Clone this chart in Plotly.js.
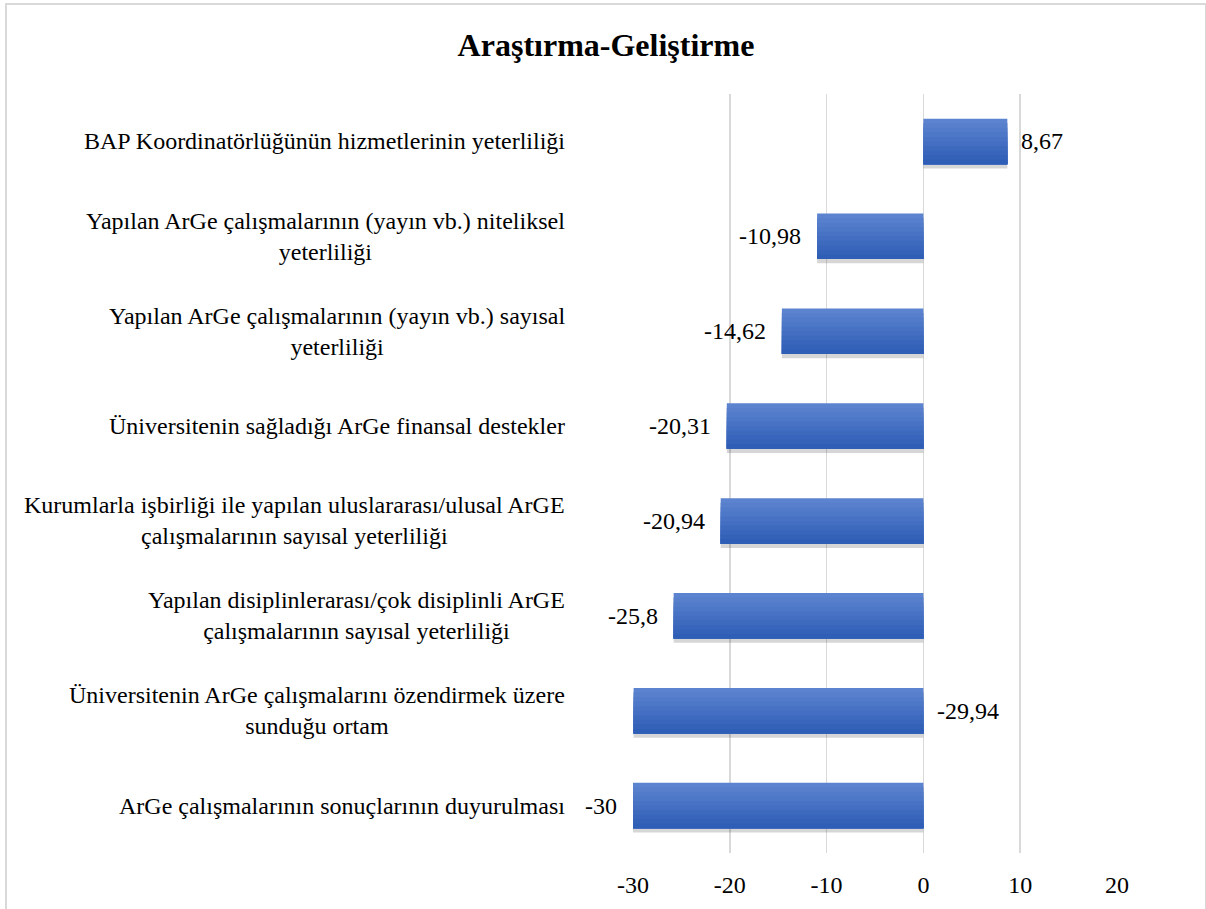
<!DOCTYPE html>
<html>
<head>
<meta charset="utf-8">
<script src="https://cdn.plot.ly/plotly-3.0.1.min.js"></script>
<style>
html,body{margin:0;padding:0;background:#fff;overflow:hidden;}
#chart{position:absolute;left:5px;top:3px;width:1198px;height:920px;border:2px solid #d9d9d9;}
</style>
</head>
<body>
<div id="chart"></div>
<script>
const chartTitle = "Araştırma-Geliştirme";
const categories = [
  "BAP Koordinatörlüğünün hizmetlerinin yeterliliği",
  "Yapılan ArGe çalışmalarının (yayın vb.) niteliksel<br>yeterliliği",
  "Yapılan ArGe çalışmalarının (yayın vb.) sayısal<br>yeterliliği",
  "Üniversitenin sağladığı ArGe finansal destekler",
  "Kurumlarla işbirliği ile yapılan uluslararası/ulusal ArGE<br>çalışmalarının sayısal yeterliliği",
  "Yapılan disiplinlerarası/çok disiplinli ArGE<br>çalışmalarının sayısal yeterliliği",
  "Üniversitenin ArGe çalışmalarını özendirmek üzere<br>sunduğu ortam",
  "ArGe çalışmalarının sonuçlarının duyurulması"
];
const values = [8.67, -10.98, -14.62, -20.31, -20.94, -25.8, -29.94, -30];
const valueLabels = ["8,67", "-10,98", "-14,62", "-20,31", "-20,94", "-25,8", "-29,94", "-30"];
const tickVals = [-30, -20, -10, 0, 10, 20];

const FONT = "'Liberation Serif', 'Times New Roman', serif";
const ids = categories.map((c, i) => "c" + i);

// vertical gradient (light top -> dark bottom), built from overlapping bands
const BAR_W = 0.48;
const topRGB = [92, 131, 207], botRGB = [47, 94, 182];
const N = 10;
const traces = [];
traces.push({
  type: "bar", orientation: "h", x: values, y: ids,
  width: BAR_W, offset: -BAR_W / 2 + 0.045,
  marker: {color: "rgba(0,0,0,0.16)", line: {width: 0}},
  hoverinfo: "skip"
});
for (let k = 0; k < N; k++) {
  const t = k / (N - 1);
  const c = topRGB.map((a, j) => Math.round(a + (botRGB[j] - a) * t));
  traces.push({
    type: "bar", orientation: "h", x: values, y: ids,
    width: BAR_W - k * BAR_W / N, offset: -BAR_W / 2 + k * BAR_W / N,
    marker: {color: "rgb(" + c.join(",") + ")", line: {width: 0}},
    hoverinfo: "skip"
  });
}

const annotations = [];
categories.forEach((c, i) => {
  annotations.push({
    xref: "paper", yref: "y", x: 0, y: ids[i],
    text: c, showarrow: false, xanchor: "right", yanchor: "middle",
    align: "center", xshift: -66,
    font: {family: FONT, size: 24, color: "#000"}
  });
});
values.forEach((v, i) => {
  // Excel placed the label of the near-full bar at the right of the zero line
  const nearEdge = v < 0 && v > -30 && v <= -29.5;
  annotations.push({
    xref: "x", yref: "y", x: nearEdge ? 0 : v, y: ids[i],
    text: valueLabels[i], showarrow: false,
    xanchor: (v >= 0 || nearEdge) ? "left" : "right", yanchor: "middle",
    xshift: (v >= 0 || nearEdge) ? 12 : -14,
    font: {family: FONT, size: 24, color: "#000"}
  });
});

const layout = {
  width: 1198, height: 920,
  margin: {l: 626, r: 88, t: 89, b: 72},
  paper_bgcolor: "#fff", plot_bgcolor: "#fff",
  showlegend: false,
  barmode: "overlay",
  title: {
    text: "<b>" + chartTitle + "</b>",
    font: {family: FONT, size: 32, color: "#000"},
    x: 0.5, xanchor: "center", xref: "container",
    y: 1 - 40/920, yanchor: "middle", yref: "container"
  },
  xaxis: {
    range: [-30, 20], tickvals: tickVals, ticktext: tickVals.map(String),
    showgrid: true, gridcolor: "#d9d9d9", gridwidth: 1.8,
    zeroline: true, zerolinecolor: "#d9d9d9", zerolinewidth: 1.8,
    showline: false, ticks: "",
    ticklabelstandoff: 15,
    tickfont: {family: FONT, size: 24, color: "#000"},
    fixedrange: true
  },
  yaxis: {
    type: "category", autorange: "reversed",
    showticklabels: false, showgrid: false, zeroline: false, ticks: "",
    fixedrange: true
  },
  annotations: annotations
};

Plotly.newPlot("chart", traces, layout, {displayModeBar: false, staticPlot: true});
</script>
</body>
</html>
